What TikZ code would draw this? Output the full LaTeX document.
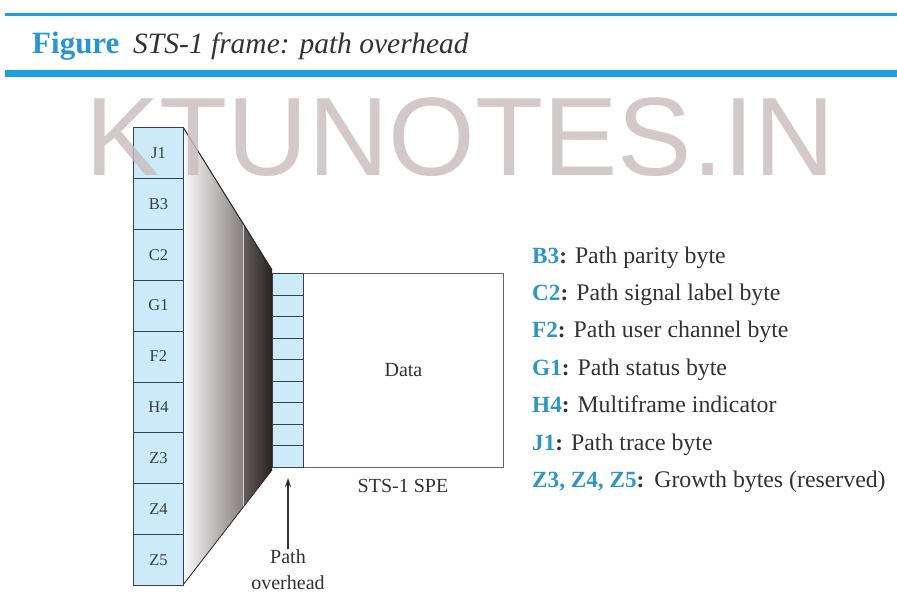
\documentclass[tikz,border=0pt]{standalone}
\usepackage{fontspec}
\setmainfont{Liberation Serif}
\newfontfamily\wmfont{Liberation Sans}
\usetikzlibrary{arrows.meta}

\definecolor{barblue}{RGB}{28,160,220}
\definecolor{figblue}{RGB}{40,150,205}
\definecolor{keyblue}{RGB}{45,150,195}
\definecolor{cellfill}{RGB}{204,234,247}
\definecolor{celltext}{RGB}{55,62,72}
\definecolor{celledge}{RGB}{55,65,75}
\definecolor{bodytext}{RGB}{50,50,50}
\definecolor{wmgray}{RGB}{200,188,190}
\definecolor{funlight}{RGB}{250,250,250}
\definecolor{funmid}{RGB}{135,128,128}
\definecolor{fundark}{RGB}{100,92,92}
\definecolor{funblack}{RGB}{40,34,34}

\newcommand{\keylbl}[1]{{\fontsize{23.2}{23.2}\selectfont\bfseries\textcolor{keyblue}{#1}:}}
\newcommand{\keydesc}[1]{{\fontsize{23.8}{23.8}\selectfont #1}}

\begin{document}
\begin{tikzpicture}[x=1pt,y=-1pt,
  cell/.style={draw=celledge, line width=0.9pt, fill=cellfill, minimum width=50pt,
    minimum height=50.9pt, inner sep=0pt, text=celltext, anchor=north west,
    font=\fontsize{16.5}{16.5}\selectfont},
  ohcell/.style={draw=celledge, line width=0.9pt, fill=cellfill, minimum width=31pt,
    minimum height=21.56pt, inner sep=0pt, anchor=north west},
  databox/.style={draw=gray!80!black, line width=0.9pt, fill=white, minimum width=200pt,
    minimum height=194pt, inner sep=0pt, anchor=north west, text=bodytext,
    font=\fontsize{20}{20}\selectfont},
  plain/.style={inner sep=0pt, text=bodytext, font=\fontsize{20}{26}\selectfont},
  keyrow/.style={inner sep=0pt, anchor=base west, text=bodytext},
  bar/.style={draw=barblue}
]
\useasboundingbox (0,0) rectangle (897,610);

% title bar
\draw[bar, line width=3pt] (5,15) -- (897,15);
\draw[bar, line width=7pt] (5,74) -- (897,74);
\node[inner sep=0pt, anchor=base west, text=figblue, font=\fontsize{31}{31}\selectfont\bfseries]
  (fig) at (32,54) {Figure};
\node[inner sep=0pt, anchor=base west, text=bodytext, font=\fontsize{29.5}{29.5}\selectfont\itshape]
  (title) at (133,54) {STS-1 frame: path overhead};

% funnel between the frame column and the overhead column
\shade[left color=funlight, right color=funmid] (183,127) -- (243,223) -- (243,507) -- (183,585) -- cycle;
\shade[left color=fundark, right color=funblack] (243,223) -- (272,270) -- (272,470) -- (243,507) -- cycle;
\draw[gray!35, line width=1pt] (243.5,224) -- (243.5,506);
\draw[funblack, line width=1pt] (183,127) -- (272,270);
\draw[funblack, line width=0.8pt] (183,585) -- (272,470);

% path overhead bytes of the frame
\foreach \t [count=\i] in {J1,B3,C2,G1,F2,H4,Z3,Z4,Z5}
  \node[cell] (c\i) at (133,{127+(\i-1)*50.9}) {\t};

% SPE: overhead column and data area
\node[databox] (data) at (303,273) {Data};
\foreach \i in {1,...,9}
  \node[ohcell] (o\i) at (272,{273+(\i-1)*21.56}) {};
\node[plain, anchor=base] (spe) at (403,492) {STS-1 SPE};

% arrow pointing at the overhead column
\node[plain, align=center, anchor=north] (pathlbl) at (288,549) {Path\\overhead};
\coordinate (ohtip) at (288,478);
\draw[-{Stealth[length=9pt,width=6pt]}, line width=1.2pt, bodytext] (pathlbl.north) -- (ohtip);

% key
\node[keyrow] (k1) at (532,263) {\keylbl{B3}\hspace{8pt}\keydesc{Path parity byte}};
\node[keyrow] (k2) at (532,300.4) {\keylbl{C2}\hspace{8pt}\keydesc{Path signal label byte}};
\node[keyrow] (k3) at (532,337.8) {\keylbl{F2}\hspace{8pt}\keydesc{Path user channel byte}};
\node[keyrow] (k4) at (532,375.2) {\keylbl{G1}\hspace{8pt}\keydesc{Path status byte}};
\node[keyrow] (k5) at (532,412.6) {\keylbl{H4}\hspace{8pt}\keydesc{Multiframe indicator}};
\node[keyrow] (k6) at (532,450) {\keylbl{J1}\hspace{8pt}\keydesc{Path trace byte}};
\node[keyrow] (k7) at (532,487.4) {\keylbl{Z3, Z4, Z5}\hspace{10pt}\keydesc{Growth bytes (reserved)}};

% watermark
\node[inner sep=0pt, anchor=base, text=wmgray, opacity=0.8, font=\fontsize{111.5}{111.5}\wmfont]
  (wm) at (460,175) {KTUNOTES.IN};
\end{tikzpicture}
\end{document}
